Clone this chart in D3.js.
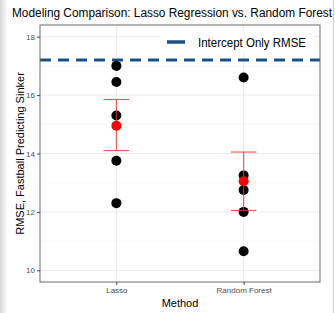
<!DOCTYPE html>
<html><head><meta charset="utf-8">
<script src="https://cdn.jsdelivr.net/npm/d3@7"></script>
<style>body{margin:0;background:#fff;}svg{display:block;font-family:"Liberation Sans",Arial,sans-serif;}</style>
</head><body>
<script>
const methods = ["Lasso", "Random Forest"];
const lassoRMSE = [17.0, 16.45, 15.3, 13.75, 12.3];
const rfRMSE = [16.6, 13.25, 12.75, 12.0, 10.65];
const meanRMSE = [14.95, 13.05];
const errLow = [14.1, 12.05];
const errHigh = [15.85, 14.05];
const interceptRMSE = 17.2;
const yTicks = [10, 12, 14, 16, 18];

const W = 335, H = 313;
const m = {left: 40, right: 15, top: 25, bottom: 31};
const svg = d3.select("body").append("svg").attr("width", W).attr("height", H);

// screenshot edge artefacts
const grad = svg.append("defs").append("linearGradient").attr("id","g").attr("x1",0).attr("x2",1);
grad.append("stop").attr("offset",0).attr("stop-color","#d8d8d8");
grad.append("stop").attr("offset",1).attr("stop-color","#ffffff");
svg.append("rect").attr("x",0).attr("y",0).attr("width",8).attr("height",H).attr("fill","url(#g)");
svg.append("line").attr("x1",333.5).attr("x2",333.5).attr("y1",0).attr("y2",H).attr("stroke","#cfcfcf");

const x = d3.scalePoint().domain(methods).range([m.left, W - m.right]).padding(0.6);
const y = d3.scaleLinear().domain([9.6, 18.4]).range([H - m.bottom, m.top]);
const step = x.step();

const g = svg.append("g");
// minor grid
d3.range(11, 19, 2).forEach(v => g.append("line").attr("x1", m.left).attr("x2", W - m.right)
  .attr("y1", y(v)).attr("y2", y(v)).attr("stroke", "#f3f3f3").attr("stroke-width", 0.6));
// major grid
yTicks.forEach(v => g.append("line").attr("x1", m.left).attr("x2", W - m.right)
  .attr("y1", y(v)).attr("y2", y(v)).attr("stroke", "#ebebeb").attr("stroke-width", 1));
methods.forEach(c => g.append("line").attr("x1", x(c)).attr("x2", x(c))
  .attr("y1", m.top).attr("y2", H - m.bottom).attr("stroke", "#ebebeb"));

// intercept dashed line
g.append("line").attr("x1", m.left).attr("x2", W - m.right)
  .attr("y1", y(interceptRMSE)).attr("y2", y(interceptRMSE))
  .attr("stroke", "#1d4f86").attr("stroke-width", 3).attr("stroke-dasharray", "11,7");

// points
const pts = [];
lassoRMSE.forEach(v => pts.push([methods[0], v]));
rfRMSE.forEach(v => pts.push([methods[1], v]));
g.selectAll("circle.p").data(pts).enter().append("circle")
  .attr("cx", d => x(d[0])).attr("cy", d => y(d[1])).attr("r", 5).attr("fill", "#000");

// error bars
methods.forEach((c, i) => {
  const cx = x(c), hw = step * 0.1;
  const e = g.append("g").attr("stroke", "#e03a3a").attr("stroke-width", 1.1).attr("opacity", 0.85);
  e.append("line").attr("x1", cx).attr("x2", cx).attr("y1", y(errLow[i])).attr("y2", y(errHigh[i]));
  e.append("line").attr("x1", cx - hw).attr("x2", cx + hw).attr("y1", y(errLow[i])).attr("y2", y(errLow[i]));
  e.append("line").attr("x1", cx - hw).attr("x2", cx + hw).attr("y1", y(errHigh[i])).attr("y2", y(errHigh[i]));
  g.append("circle").attr("cx", cx).attr("cy", y(meanRMSE[i])).attr("r", 5).attr("fill", "#ff0000");
});

// legend
const lg = svg.append("g");
lg.append("rect").attr("x", 160).attr("y", 31).attr("width", 154).attr("height", 22).attr("fill", "#fff");
lg.append("line").attr("x1", 167).attr("x2", 185).attr("y1", 42).attr("y2", 42)
  .attr("stroke", "#1d4f86").attr("stroke-width", 3.5);
lg.append("text").attr("x", 198).attr("y", 46.5).attr("font-size", 12).attr("fill", "#000")
  .attr("textLength", 108).attr("lengthAdjust", "spacingAndGlyphs").text("Intercept Only RMSE");

// panel border
svg.append("rect").attr("x", m.left).attr("y", m.top).attr("width", W - m.left - m.right)
  .attr("height", H - m.top - m.bottom).attr("fill", "none").attr("stroke", "#6a6a6a").attr("stroke-width", 1);

// axes
const ya = svg.append("g").attr("transform", `translate(${m.left},0)`)
  .call(d3.axisLeft(y).tickValues(yTicks).tickSize(3).tickPadding(2));
ya.select(".domain").remove();
ya.selectAll("text").attr("font-size", 8).attr("fill", "#4d4d4d").attr("font-family", "Liberation Sans, Arial");
ya.selectAll("line").attr("stroke", "#444");
const xa = svg.append("g").attr("transform", `translate(0,${H - m.bottom})`)
  .call(d3.axisBottom(x).tickSize(3).tickPadding(2));
xa.select(".domain").remove();
xa.selectAll("text").attr("font-size", 8).attr("fill", "#4d4d4d").attr("font-family", "Liberation Sans, Arial");
xa.selectAll("line").attr("stroke", "#444");

// titles
svg.append("text").attr("x", 12).attr("y", 17).attr("font-size", 12).attr("fill", "#000")
  .attr("textLength", 320).attr("lengthAdjust", "spacingAndGlyphs")
  .text("Modeling Comparison: Lasso Regression vs. Random Forest");
svg.append("text").attr("x", (m.left + W - m.right) / 2).attr("y", 307).attr("text-anchor", "middle")
  .attr("font-size", 11).attr("fill", "#000").text("Method");
svg.append("text").attr("transform", `translate(24,${(m.top + H - m.bottom) / 2}) rotate(-90)`)
  .attr("text-anchor", "middle").attr("font-size", 11).attr("fill", "#000").text("RMSE, Fastball Predicting Sinker");
</script>
</body></html>
